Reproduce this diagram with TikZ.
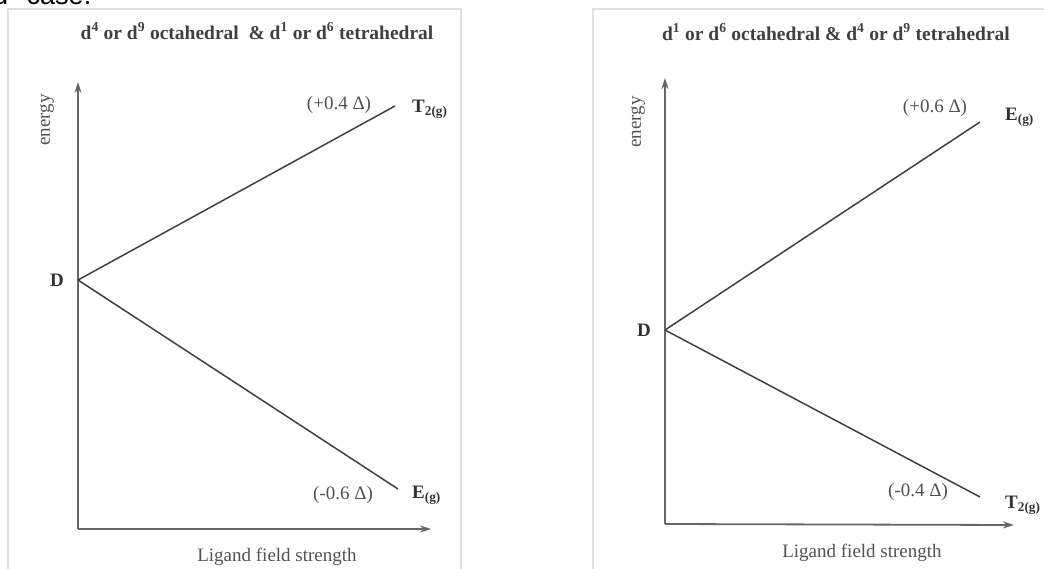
\documentclass[tikz,border=0pt]{standalone}
\usepackage{fontspec}
\setmainfont{Liberation Serif}
\newfontfamily\capfont{Liberation Sans}
\usetikzlibrary{positioning,arrows.meta,calc}

\begin{document}
\begin{tikzpicture}[x=1pt,y=-1pt,
  axis/.style={draw=black!60,line width=1.8pt},
  level/.style={draw=black!75,line width=1.5pt},
  frame/.style={draw=black!12,line width=1.6pt},
  lab/.style={text=black!68,font=\fontsize{19}{22}\selectfont,inner sep=1pt},
  term/.style={text=black!80,font=\fontsize{19}{22}\selectfont\bfseries,inner sep=1pt},
  head/.style={text=black!75,font=\fontsize{19.5}{22}\selectfont\bfseries,inner sep=1pt},
  >={Stealth[length=11pt,width=7pt]}]
\useasboundingbox (0,0) rectangle (1044,569);

% cut-off caption above the panels
\node[anchor=base west,inner sep=0pt,font=\capfont\fontsize{27}{27}\selectfont] (cap) at (-7,5) {d\textsuperscript{9} case.};

% left panel
\draw[frame] (8,9) rectangle (461,580);
\node[head] (ttl1) at (257,31) {d\textsuperscript{4} or d\textsuperscript{9} octahedral\ \ \& d\textsuperscript{1} or d\textsuperscript{6} tetrahedral};
\coordinate (o1) at (78,529);
\coordinate (y1) at (78,82);
\coordinate (x1) at (431,529);
\coordinate (v1) at (78,280);
\coordinate (a1) at (395,106);
\coordinate (b1) at (398,489);
\draw[axis,->] (o1) -- (y1);
\draw[axis,->] (o1) -- (x1);
\draw[level] (v1) -- (a1);
\draw[level] (v1) -- (b1);
\node[lab,rotate=90] (en1) at (47,120) {energy};
\node[lab] (lg1) at (277,557) {Ligand field strength};
\node[term,left=13pt of v1] (D1) {D};
\node[lab] (p1) at (339,105) {(+0.4 Δ)};
\node[lab] (m1) at (343,495) {(-0.6 Δ)};
\node[term,anchor=west] (T1) at (411,109) {T\textsubscript{2(g)}};
\node[term,anchor=west] (E1) at (411,495) {E\textsubscript{(g)}};

% right panel
\draw[frame] (593,9) rectangle (1060,580);
\node[head] (ttl2) at (836,32) {d\textsuperscript{1} or d\textsuperscript{6} octahedral \& d\textsuperscript{4} or d\textsuperscript{9} tetrahedral};
\coordinate (o2) at (665,524);
\coordinate (y2) at (665,78);
\coordinate (x2) at (1014,525);
\coordinate (v2) at (665,330);
\coordinate (a2) at (980,122);
\coordinate (b2) at (980,497);
\draw[axis,->] (o2) -- (y2);
\draw[axis,->] (o2) -- (x2);
\draw[level] (v2) -- (a2);
\draw[level] (v2) -- (b2);
\node[lab,rotate=90] (en2) at (638,122) {energy};
\node[lab] (lg2) at (862,553) {Ligand field strength};
\node[term,left=13pt of v2] (D2) {D};
\node[lab] (p2) at (935,108) {(+0.6 Δ)};
\node[lab] (m2) at (918,492) {(-0.4 Δ)};
\node[term,anchor=west] (E2) at (1004,117) {E\textsubscript{(g)}};
\node[term,anchor=west] (T2) at (1004,505) {T\textsubscript{2(g)}};
\end{tikzpicture}
\end{document}
